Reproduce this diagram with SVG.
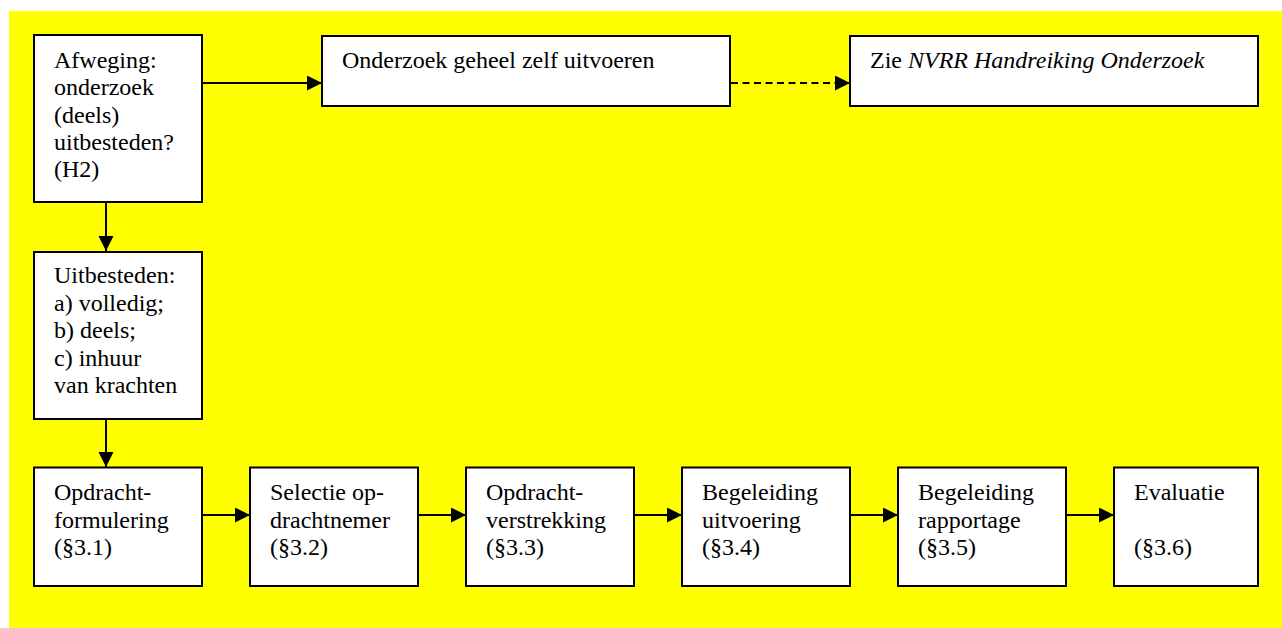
<svg xmlns="http://www.w3.org/2000/svg" width="1282" height="628" viewBox="0 0 1282 628">
<style>
.box{fill:#fff;stroke:#000;stroke-width:2}
.t{font-family:'Liberation Serif','Times New Roman','DejaVu Serif',Tinos,serif;font-size:24px;fill:#000}
.c{stroke:#000;stroke-width:2;fill:none}
.d{stroke-dasharray:7 4.5}
</style>
<defs>
<marker id="ah" markerUnits="userSpaceOnUse" markerWidth="16" markerHeight="16" refX="15" refY="7.5" orient="auto">
<path d="M0,0 L15,7.5 L0,15 z" fill="#000"/>
</marker>
</defs>
<rect x="9" y="11" width="1273" height="617" fill="#ffff00"/>
<g id="connectors">
<line class="c" x1="203" y1="83" x2="322" y2="83" marker-end="url(#ah)"/>
<line class="c d" x1="731" y1="83" x2="850" y2="83" marker-end="url(#ah)"/>
<line class="c" x1="106" y1="203" x2="106" y2="251" marker-end="url(#ah)"/>
<line class="c" x1="106" y1="420" x2="106" y2="467" marker-end="url(#ah)"/>
<line class="c" x1="203" y1="515" x2="250" y2="515" marker-end="url(#ah)"/>
<line class="c" x1="419" y1="515" x2="466" y2="515" marker-end="url(#ah)"/>
<line class="c" x1="635" y1="515" x2="682" y2="515" marker-end="url(#ah)"/>
<line class="c" x1="851" y1="515" x2="898" y2="515" marker-end="url(#ah)"/>
<line class="c" x1="1067" y1="515" x2="1114" y2="515" marker-end="url(#ah)"/>
</g>
<g font-family="Liberation Serif, serif">
<g id="afweging">
<rect class="box" x="34" y="35" width="168" height="167"/>
<text class="t" x="54" y="68">Afweging:</text>
<text class="t" x="54" y="95.3">onderzoek</text>
<text class="t" x="54" y="122.6">(deels)</text>
<text class="t" x="54" y="150">uitbesteden?</text>
<text class="t" x="54" y="177.3">(H2)</text>
</g>
<g id="zelf">
<rect class="box" x="322" y="36" width="408" height="70"/>
<text class="t" x="342" y="68">Onderzoek geheel zelf uitvoeren</text>
</g>
<g id="zie">
<rect class="box" x="850" y="36" width="408" height="70"/>
<text class="t" x="870" y="68">Zie <tspan font-style="italic">NVRR Handreiking Onderzoek</tspan></text>
</g>
<g id="uitbesteden">
<rect class="box" x="34" y="252" width="168" height="167"/>
<text class="t" x="54" y="283">Uitbesteden:</text>
<text class="t" x="54" y="310.5">a) volledig;</text>
<text class="t" x="54" y="338">b) deels;</text>
<text class="t" x="54" y="365.5">c) inhuur</text>
<text class="t" x="54" y="393">van krachten</text>
</g>
<g id="s31">
<rect class="box" x="34" y="467.5" width="168" height="118.5"/>
<text class="t" x="54" y="500">Opdracht-</text>
<text class="t" x="54" y="527.5">formulering</text>
<text class="t" x="54" y="555">(§3.1)</text>
</g>
<g id="s32">
<rect class="box" x="250" y="467.5" width="168" height="118.5"/>
<text class="t" x="270" y="500">Selectie op-</text>
<text class="t" x="270" y="527.5">drachtnemer</text>
<text class="t" x="270" y="555">(§3.2)</text>
</g>
<g id="s33">
<rect class="box" x="466" y="467.5" width="168" height="118.5"/>
<text class="t" x="486" y="500">Opdracht-</text>
<text class="t" x="486" y="527.5">verstrekking</text>
<text class="t" x="486" y="555">(§3.3)</text>
</g>
<g id="s34">
<rect class="box" x="682" y="467.5" width="168" height="118.5"/>
<text class="t" x="702" y="500">Begeleiding</text>
<text class="t" x="702" y="527.5">uitvoering</text>
<text class="t" x="702" y="555">(§3.4)</text>
</g>
<g id="s35">
<rect class="box" x="898" y="467.5" width="168" height="118.5"/>
<text class="t" x="918" y="500">Begeleiding</text>
<text class="t" x="918" y="527.5">rapportage</text>
<text class="t" x="918" y="555">(§3.5)</text>
</g>
<g id="s36">
<rect class="box" x="1114" y="467.5" width="144" height="118.5"/>
<text class="t" x="1134" y="500">Evaluatie</text>
<text class="t" x="1134" y="555">(§3.6)</text>
</g>
</g>
</svg>
